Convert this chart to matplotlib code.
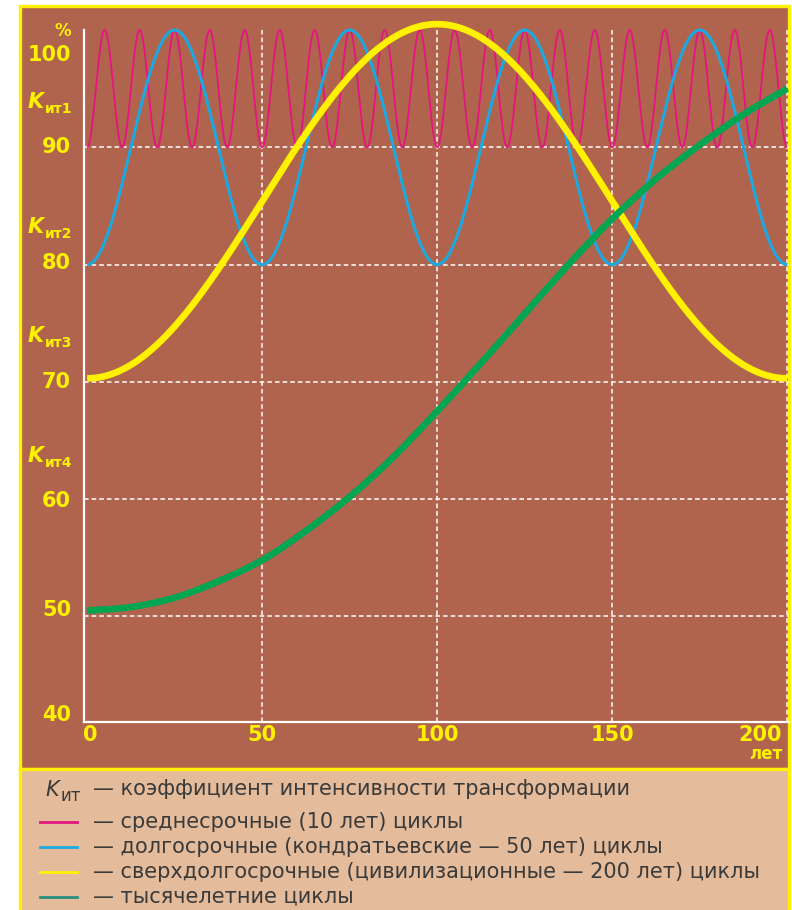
import numpy as np
import matplotlib
matplotlib.use("Agg")
import matplotlib.pyplot as plt
from matplotlib.patches import Rectangle, PathPatch
from matplotlib.lines import Line2D
from matplotlib.path import Path

# ---------------- data ----------------
years_max = 200
cycle_names = ["среднесрочные", "долгосрочные", "сверхдолгосрочные"]
cycle_periods = [10, 50, 200]          # years
cycle_low = [90, 80, 70.3]             # % at trough (trough at year 0)
cycle_high = [100, 100, 100.5]         # % at crest

millennium_years = [0, 12.5, 25, 37.5, 50, 62.5, 75, 87.5, 100,
                    112.5, 125, 137.5, 150, 162.5, 175, 187.5, 200]
millennium_values = [50.5, 50.8, 51.6, 53.0, 54.8, 57.3, 60.2, 63.6, 67.5,
                     71.6, 75.8, 80.0, 83.9, 87.3, 90.2, 92.8, 95.0]

x_tick_values = [0, 50, 100, 150, 200]
x_unit = "лет"
y_tick_values = [100, 90, 80, 70, 60, 50, 40]
y_unit = "%"
k_labels = ["ит1", "ит2", "ит3", "ит4"]
k_levels = [93.8, 83.1, 73.8, 63.6]

legend_title = "— коэффициент интенсивности трансформации"
legend_texts = ["— среднесрочные (10 лет) циклы",
                "— долгосрочные (кондратьевские — 50 лет) циклы",
                "— сверхдолгосрочные (цивилизационные — 200 лет) циклы",
                "— тысячелетние циклы"]

# ---------------- style ----------------
W, H = 792, 910
BROWN = "#B0644D"
LEG_BG = "#E4BC9C"
YEL = "#FFF100"
MAG = "#E4157F"
BLUE = "#1CA8E0"
GREEN = "#00A651"
TEAL = "#26907E"
TXT = "#3A3A3A"

def fx(px):
    return px / W

def fy(py):
    return 1 - py / H

fig = plt.figure(figsize=(W / 100, H / 100), dpi=100)
fig.patch.set_facecolor("white")

fig.patches.append(Rectangle((fx(20), fy(769)), fx(769), 763 / H,
                             transform=fig.transFigure, facecolor=BROWN,
                             edgecolor=YEL, linewidth=2.4, zorder=-10))
fig.patches.append(Rectangle((fx(20), fy(912)), fx(769), 143 / H,
                             transform=fig.transFigure, facecolor=LEG_BG,
                             edgecolor=YEL, linewidth=2.4, zorder=-10))

ax = fig.add_axes([fx(84), fy(722), 705 / W, 692 / H])
ax.patch.set_visible(False)
ax.set_xlim(-0.9, 200.5)
ax.set_ylim(41, 100)

ax.set_xticks([v for v in x_tick_values if v > 0])
ax.set_yticks([v for v in y_tick_values if 40 < v < 100])
ax.tick_params(length=0, labelleft=False, labelbottom=False)
ax.grid(True, color="white", linestyle=(0, (3, 2)), linewidth=1.1)
ax.set_axisbelow(True)
for s in ["top", "right"]:
    ax.spines[s].set_visible(False)
for s in ["left", "bottom"]:
    ax.spines[s].set_color("white")
    ax.spines[s].set_linewidth(1.6)

x = np.linspace(0, years_max, 2001)
widths = [1.3, 2.2, 4.8]
colors = [MAG, BLUE, YEL]
for T, lo, hi, lw, c in zip(cycle_periods, cycle_low, cycle_high, widths, colors):
    y = lo + (hi - lo) * (1 - np.cos(2 * np.pi * x / T)) / 2
    ax.plot(x, y, color=c, lw=lw, clip_on=False, solid_capstyle="butt", zorder=3)

# millennium curve: smooth Bezier path through the read points
pts = np.column_stack([millennium_years, millennium_values]).astype(float)
verts = [pts[0]]
codes = [Path.MOVETO]
n = len(pts)
for i in range(n - 1):
    p0 = pts[i - 1] if i > 0 else pts[i]
    p1 = pts[i]
    p2 = pts[i + 1]
    p3 = pts[i + 2] if i + 2 < n else pts[i + 1]
    verts += [p1 + (p2 - p0) / 6, p2 - (p3 - p1) / 6, p2]
    codes += [Path.CURVE4] * 3
ax.add_patch(PathPatch(Path(verts, codes), fill=False, edgecolor=GREEN,
                       lw=4.8, capstyle="butt", clip_on=False, zorder=4))

# y tick labels
nudge = {100: -25, 90: 0, 80: 2, 70: 0, 60: -2, 50: 6, 40: 19}
for v in y_tick_values:
    ax.annotate(str(v), xy=(0, v), xycoords=("axes fraction", "data"),
                xytext=(-13, nudge[v]), textcoords="offset pixels",
                ha="right", va="center", color=YEL, fontsize=15,
                fontweight="bold", annotation_clip=False)
ax.annotate(y_unit, xy=(0, 100), xycoords=("axes fraction", "data"),
            xytext=(-13, -1), textcoords="offset pixels", ha="right",
            va="center", color=YEL, fontsize=12, fontweight="bold",
            annotation_clip=False)

# K labels
for lab, lv in zip(k_labels, k_levels):
    ax.annotate("K", xy=(0, lv), xycoords=("axes fraction", "data"),
                xytext=(-40, -5), textcoords="offset pixels", ha="right",
                va="baseline", color=YEL, fontsize=15, fontweight="bold",
                fontstyle="italic", annotation_clip=False)
    ax.annotate(lab, xy=(0, lv), xycoords=("axes fraction", "data"),
                xytext=(-39, -10), textcoords="offset pixels", ha="left",
                va="baseline", color=YEL, fontsize=10, fontweight="bold",
                annotation_clip=False)

# x tick labels
for v in x_tick_values:
    if v == 0:
        ha, dx = "left", -4
    elif v == x_tick_values[-1]:
        ha, dx = "right", -5
    else:
        ha, dx = "center", 0
    ax.annotate(str(v), xy=(v, 0), xycoords=("data", "axes fraction"),
                xytext=(dx, -13), textcoords="offset pixels", ha=ha,
                va="center", color=YEL, fontsize=15, fontweight="bold",
                annotation_clip=False)
ax.annotate(x_unit, xy=(x_tick_values[-1], 0), xycoords=("data", "axes fraction"),
            xytext=(-5, -32), textcoords="offset pixels", ha="right",
            va="center", color=YEL, fontsize=12, fontweight="bold",
            annotation_clip=False)

# legend area
fig.text(fx(59), fy(796), "K", ha="right", va="baseline", color=TXT,
         fontsize=15, fontstyle="italic")
fig.text(fx(60), fy(801), "ит", ha="left", va="baseline", color=TXT,
         fontsize=12)
fig.text(fx(93), fy(789), legend_title, ha="left", va="center", color=TXT,
         fontsize=15)
leg_colors = [MAG, BLUE, YEL, TEAL]
leg_y = [822, 847, 872, 897]
for c, yy, t in zip(leg_colors, leg_y, legend_texts):
    fig.lines.append(Line2D([fx(40), fx(77)], [fy(yy), fy(yy)],
                            transform=fig.transFigure, color=c, lw=2.0))
    fig.text(fx(93), fy(yy), t, ha="left", va="center", color=TXT, fontsize=15)

fig.savefig("out.png", dpi=100, facecolor="white")
